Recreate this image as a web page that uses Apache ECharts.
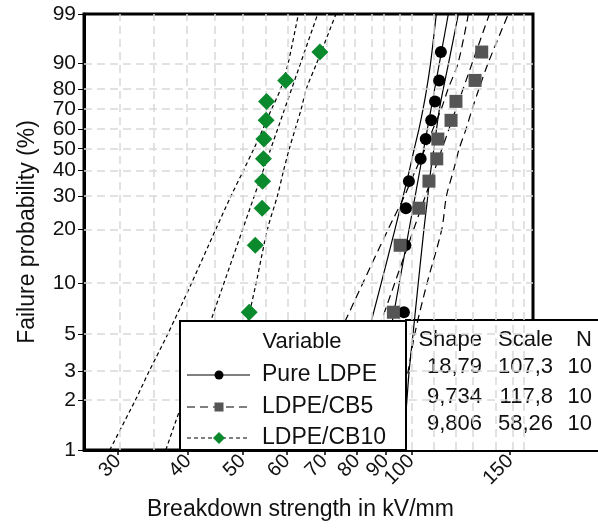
<!DOCTYPE html>
<html>
<head>
<meta charset="utf-8">
<script src="https://cdn.jsdelivr.net/npm/echarts@6/dist/echarts.min.js"></script>
<style>
    html, body { margin: 0; padding: 0; background: #fff; }
    #chart { width: 598px; height: 529px; }
</style>
</head>
<body>
<div id="chart"></div>
<script>
// ranks (%) at which the 10 specimens of each material are plotted
const probs = [6.73, 16.35, 25.96, 35.58, 45.19, 54.81, 64.42, 74.04, 83.65, 93.27]
// breakdown strength kV/mm, sorted
const pureLDPE = [97.0, 97.6, 97.8, 99.0, 103.9, 106.1, 108.5, 110.2, 112.1, 112.9]
const ldpeCB5 = [92.9, 95.5, 103.2, 107.5, 111.0, 111.5, 117.7, 120.1, 129.9, 133.5]
const ldpeCB10 = [51.4, 52.7, 54.2, 54.3, 54.5, 54.6, 55.1, 55.2, 59.7, 68.7]

// fitted lines, read at 1% and 99%
const fitProbs = [1, 99]
const pureFit = [84.0, 116.4]
const cb5Fit = [73.4, 137.8]
const cb10Fit = [36.5, 68.1]

// confidence bounds
const bandProbs = [1, 2, 3, 5, 10, 20, 30, 40, 50, 60, 70, 80, 90, 99]
const pureLow = [73.1, 77.7, 80.4, 83.7, 88.4, 93.5, 96.7, 99.2, 101.2, 103.2, 104.9, 106.5, 108.2, 110.8]
const pureHigh = [96.6, 98.2, 99.1, 100.7, 102.9, 105.3, 107.0, 108.3, 109.7, 110.9, 112.2, 114.0, 116.5, 121.3]
const cb5Low = [58.6, 64.9, 68.7, 74.3, 82.0, 90.9, 97.2, 101.7, 105.8, 109.3, 113.0, 116.3, 121.1, 126.4]
const cb5High = [92.0, 96.3, 98.7, 101.4, 106.7, 113.3, 115.5, 118.9, 121.7, 125.2, 128.3, 132.0, 137.0, 148.9]
const cb10Low = [29.0, 32.2, 34.1, 36.8, 40.6, 44.8, 47.7, 50.2, 52.4, 54.4, 56.3, 58.5, 60.3, 62.9]
const cb10High = [46.0, 47.9, 49.1, 50.5, 52.9, 55.4, 57.7, 59.2, 60.6, 62.1, 63.6, 65.0, 67.8, 73.4]

// table
const names = ['Pure LDPE', 'LDPE/CB5', 'LDPE/CB10']
const shapes = ['18,79', '9,734', '9,806']
const scales = ['107,3', '117,8', '58,26']
const counts = ['10', '10', '10']

// axes
const xTicks = [30, 40, 50, 60, 70, 80, 90, 100, 150]
const xGrid = [30, 35, 40, 45, 50, 55, 60, 65, 70, 75, 80, 85, 90, 95, 100, 110, 120, 130, 140, 150, 160]
const yTicks = [1, 2, 3, 5, 10, 20, 30, 40, 50, 60, 70, 80, 90, 99]
const yGrid = [2, 3, 5, 10, 20, 30, 40, 50, 60, 70, 80, 90]

const FONT = 'Arial, "Liberation Sans", sans-serif'
const lg = v => Math.log10(v)
const wb = p => Math.log(-Math.log(1 - p / 100))   // weibull probability scale

function pairs(xs, ps) {
    return xs.map((x, i) => [lg(x), wb(ps[i])])
}

function curve(name, xs, ps, dash, smooth) {
    return {
        name: name,
        type: 'line',
        data: pairs(xs, ps),
        symbol: 'none',
        smooth: smooth ? 0.3 : false,
        z: 3,
        silent: true,
        lineStyle: { color: '#000', width: 1.2, type: dash }
    }
}

const styles = [
    { dash: 'solid', symbol: 'circle', size: 12, color: '#000' },
    { dash: [8, 5], symbol: 'rect', size: 13, color: '#555' },
    { dash: [4, 3], symbol: 'diamond', size: 17, color: '#0a8a2c' }
]
const pts = [pureLDPE, ldpeCB5, ldpeCB10]
const fits = [pureFit, cb5Fit, cb10Fit]
const lows = [pureLow, cb5Low, cb10Low]
const highs = [pureHigh, cb5High, cb10High]

let series = [{
    type: 'line',
    data: [],
    z: 1,
    silent: true,
    markLine: {
        silent: true,
        symbol: ['none', 'none'],
        label: { show: false },
        animation: false,
        lineStyle: { color: '#d9d9d9', width: 1.5, type: [8, 5] },
        data: xGrid.map(v => ({ xAxis: lg(v) })).concat(yGrid.map(p => ({ yAxis: wb(p) })))
    }
}]

names.forEach((n, i) => {
    let s = styles[i]
    series.push(curve(n, fits[i], fitProbs, s.dash, false))
    series.push(curve(n, lows[i], bandProbs, s.dash, true))
    series.push(curve(n, highs[i], bandProbs, s.dash, true))
})
names.forEach((n, i) => {
    let s = styles[i]
    series.push({
        name: n,
        type: 'scatter',
        data: pairs(pts[i], probs),
        symbol: s.symbol,
        symbolSize: s.size,
        z: 6,
        itemStyle: { color: s.color, opacity: 1 }
    })
})

// legend box + parameter table (drawn as graphics)
let legendKids = [
    { type: 'rect', shape: { x: 180, y: 321, width: 226, height: 129 }, style: { fill: '#fff', stroke: '#000', lineWidth: 2 } },
    { type: 'text', style: { x: 302, y: 342, text: 'Variable', font: '22px ' + FONT, fill: '#111', align: 'center', verticalAlign: 'middle' } }
]
const rowY = [375, 407, 438]
names.forEach((n, i) => {
    let s = styles[i]
    let y = rowY[i]
    legendKids.push({ type: 'line', shape: { x1: 187, y1: y, x2: 250, y2: y }, style: { stroke: '#000', lineWidth: 1.2, lineDash: s.dash === 'solid' ? null : s.dash } })
    if (s.symbol === 'circle') {
        legendKids.push({ type: 'circle', shape: { cx: 219, cy: y, r: 4.5 }, style: { fill: s.color } })
    } else if (s.symbol === 'rect') {
        legendKids.push({ type: 'rect', shape: { x: 214.5, y: y - 4.5, width: 9, height: 9 }, style: { fill: s.color } })
    } else {
        legendKids.push({ type: 'polygon', shape: { points: [[219, y - 6], [225, y], [219, y + 6], [213, y]] }, style: { fill: s.color } })
    }
    legendKids.push({ type: 'text', style: { x: 262, y: y, text: n, font: '23px ' + FONT, fill: '#111', verticalAlign: 'middle' } })
})
legendKids.forEach(k => { k.z = 20; k.silent = true })

let tableKids = [
    { type: 'rect', shape: { x: 406, y: 320, width: 196, height: 131 }, style: { fill: '#fff', stroke: '#000', lineWidth: 2 } }
]
const colX = [482, 553, 592]
const tableRows = [['Shape', 'Scale', 'N']].concat(names.map((n, i) => [shapes[i], scales[i], counts[i]]))
const tableY = [340, 367, 397, 424]
tableRows.forEach((r, j) => {
    r.forEach((t, k) => {
        tableKids.push({ type: 'text', style: { x: colX[k], y: tableY[j], text: t, font: '22px ' + FONT, fill: '#111', align: 'right', verticalAlign: 'middle' } })
    })
})
tableKids.forEach(k => { k.z = 2; k.silent = true })

let option = {
    animation: false,
    backgroundColor: '#fff',
    grid: {
        left: 84, right: 65, top: 14, bottom: 79,
        show: true, borderColor: '#000', borderWidth: 3, backgroundColor: 'transparent'
    },
    xAxis: {
        type: 'value',
        min: 1.41651,
        max: 2.21687,
        name: 'Breakdown strength in kV/mm',
        nameLocation: 'middle',
        nameGap: 48,
        nameTextStyle: { fontFamily: FONT, fontSize: 23, color: '#111', padding: [0, 16, 0, 0] },
        axisLine: { show: true, onZero: false, lineStyle: { color: '#000', width: 3 } },
        axisTick: { show: true, length: 5, customValues: xTicks.map(lg), lineStyle: { color: '#000', width: 1.5 } },
        axisLabel: {
            customValues: xTicks.map(lg),
            rotate: 45, margin: 8,
            fontFamily: FONT, fontSize: 20, color: '#111',
            formatter: v => String(Math.round(Math.pow(10, v)))
        },
        splitLine: { show: false }
    },
    yAxis: {
        type: 'value',
        min: wb(1),
        max: wb(99),
        name: 'Failure probability (%)',
        nameLocation: 'middle',
        nameGap: 45,
        nameTextStyle: { fontFamily: FONT, fontSize: 23, color: '#111' },
        axisLine: { show: true, onZero: false, lineStyle: { color: '#000', width: 3 } },
        axisTick: { show: true, length: 6, customValues: yTicks.map(wb), lineStyle: { color: '#000', width: 1 } },
        axisLabel: {
            customValues: yTicks.map(wb),
            margin: 8,
            fontFamily: FONT, fontSize: 21, color: '#111',
            formatter: v => String(Math.round(100 * (1 - Math.exp(-Math.exp(v)))))
        },
        splitLine: { show: false }
    },
    graphic: [
        { type: 'group', children: tableKids },
        { type: 'group', children: legendKids }
    ],
    series: series
}

var myChart = echarts.init(document.getElementById('chart'))
myChart.setOption(option)
</script>
</body>
</html>
